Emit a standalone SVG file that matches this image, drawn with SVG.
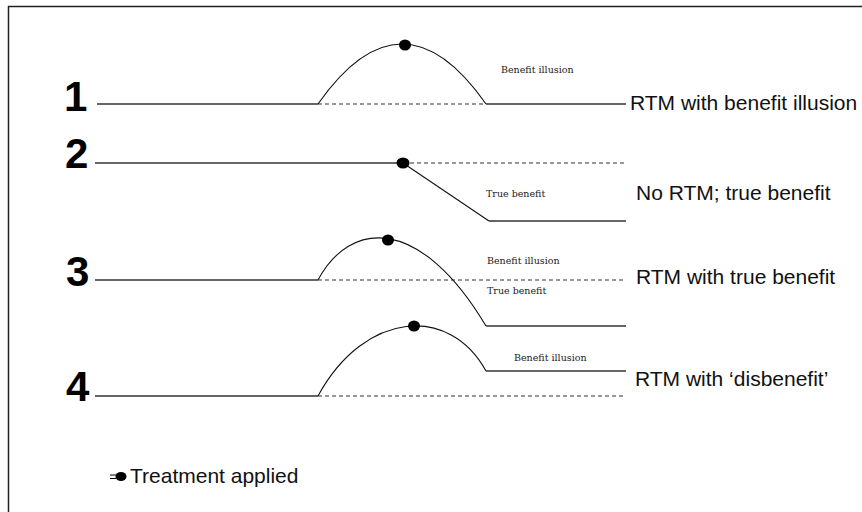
<svg xmlns="http://www.w3.org/2000/svg" width="862" height="512" viewBox="0 0 862 512">
<style>
.num{font-family:"Liberation Sans",Arial,sans-serif;font-weight:bold;font-size:42px;fill:#000}
.lab{font-family:"Liberation Sans",Arial,sans-serif;font-size:21px;fill:#111}
.sm{font-family:"DejaVu Serif","Liberation Serif",serif;font-size:9.5px;fill:#222}
.sol{fill:none;stroke:#333;stroke-width:1.4}
.cur{fill:none;stroke:#111;stroke-width:1.1}
.dash{fill:none;stroke:#333;stroke-width:1.1;stroke-dasharray:4 3}
.dot{fill:#000}
</style>
<rect x="0" y="0" width="862" height="512" fill="#fff"/>
<rect x="8.5" y="6.5" width="900" height="600" fill="none" stroke="#222" stroke-width="1.5"/>
<g id="connectors">
  <!-- row 1 -->
  <line class="sol" x1="97" y1="104" x2="318" y2="104"/>
  <line class="dash" x1="318" y1="104" x2="486" y2="104"/>
  <path class="cur" d="M318,104 Q402,-16 486,104"/>
  <line class="sol" x1="486" y1="104" x2="626" y2="104"/>
  <!-- row 2 -->
  <line class="sol" x1="95" y1="163" x2="403" y2="163"/>
  <line class="dash" x1="403" y1="163" x2="624" y2="163"/>
  <line class="cur" x1="403" y1="163" x2="489" y2="221"/>
  <line class="sol" x1="489" y1="221" x2="626" y2="221"/>
  <!-- row 3 -->
  <line class="sol" x1="95" y1="280" x2="318" y2="280"/>
  <line class="dash" x1="318" y1="280" x2="626" y2="280"/>
  <path class="cur" d="M318,280 C350,220 420,215 486,326"/>
  <line class="sol" x1="486" y1="326" x2="626" y2="326"/>
  <!-- row 4 -->
  <line class="sol" x1="95" y1="396" x2="318" y2="396"/>
  <line class="dash" x1="318" y1="396" x2="626" y2="396"/>
  <path class="cur" d="M318,396 C365,310 450,305 486,371"/>
  <line class="sol" x1="486" y1="371" x2="626" y2="371"/>
</g>
<g id="row1">
  <text class="num" x="64" y="111">1</text>
  <ellipse class="dot" cx="405" cy="45" rx="6" ry="5.5"/>
  <text class="sm" x="501" y="73">Benefit illusion</text>
  <text class="lab" x="630" y="110">RTM with benefit illusion</text>
</g>
<g id="row2">
  <text class="num" x="65" y="168">2</text>
  <ellipse class="dot" cx="403" cy="163" rx="6.5" ry="5.5"/>
  <text class="sm" x="486" y="197">True benefit</text>
  <text class="lab" x="636" y="200">No RTM; true benefit</text>
</g>
<g id="row3">
  <text class="num" x="66" y="286">3</text>
  <ellipse class="dot" cx="388" cy="240" rx="6" ry="5.5"/>
  <text class="sm" x="487" y="264">Benefit illusion</text>
  <text class="sm" x="487" y="294">True benefit</text>
  <text class="lab" x="636" y="284">RTM with true benefit</text>
</g>
<g id="row4">
  <text class="num" x="66" y="401">4</text>
  <ellipse class="dot" cx="414" cy="326" rx="6" ry="5.5"/>
  <text class="sm" x="514" y="361">Benefit illusion</text>
  <text class="lab" x="635" y="386">RTM with ‘disbenefit’</text>
</g>
<g id="legend">
  <line x1="110" y1="475" x2="116" y2="475" stroke="#000" stroke-width="1"/>
  <line x1="110" y1="478.5" x2="116" y2="478.5" stroke="#000" stroke-width="1"/>
  <ellipse class="dot" cx="121" cy="476.5" rx="5.5" ry="4.5"/>
  <text class="lab" x="130" y="483" font-size="20">Treatment applied</text>
</g>
</svg>
